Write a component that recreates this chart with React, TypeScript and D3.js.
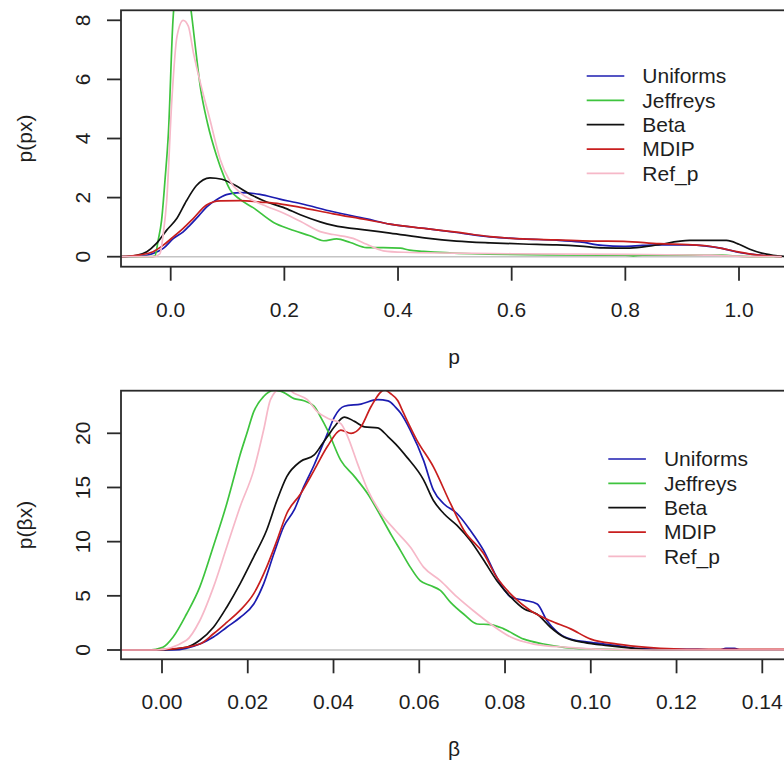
import React from 'react';
import * as d3 from 'd3';

type Pt = [number, number];

const seriesNames = ['Uniforms', 'Jeffreys', 'Beta', 'MDIP', 'Ref_p'];
const seriesColors = ['#1c1cb0', '#3ec43e', '#111111', '#c81e1e', '#f6b8c8'];

const topXTicks = [0, 0.2, 0.4, 0.6, 0.8, 1.0];
const topXLabels = ['0.0', '0.2', '0.4', '0.6', '0.8', '1.0'];
const topYTicks = [0, 2, 4, 6, 8];
const botXTicks = [0, 0.02, 0.04, 0.06, 0.08, 0.1, 0.12, 0.14];
const botXLabels = ['0.00', '0.02', '0.04', '0.06', '0.08', '0.10', '0.12', '0.14'];
const botYTicks = [0, 5, 10, 15, 20];

// ---- Top panel: posterior density of p ----
const topUniforms: Pt[] = [
  [-0.087, 0], [-0.054, 0.02], [-0.031, 0.11], [-0.013, 0.28], [0.005, 0.62], [0.022, 0.84], [0.034, 1.07],
  [0.05, 1.4], [0.063, 1.68], [0.08, 1.92], [0.098, 2.1], [0.122, 2.17], [0.157, 2.11], [0.192, 1.95],
  [0.228, 1.8], [0.286, 1.52], [0.345, 1.28], [0.386, 1.1], [0.45, 0.95], [0.503, 0.82], [0.562, 0.67],
  [0.62, 0.6], [0.679, 0.56], [0.72, 0.5], [0.76, 0.38], [0.797, 0.35], [0.83, 0.38], [0.86, 0.4],
  [0.91, 0.4], [0.943, 0.36], [0.97, 0.28], [0.996, 0.16], [1.02, 0.09], [1.043, 0.04], [1.075, 0],
];
const topMDIP: Pt[] = [
  [-0.087, 0], [-0.054, 0.06], [-0.031, 0.17], [-0.013, 0.39], [0.005, 0.68], [0.022, 0.96], [0.04, 1.3],
  [0.063, 1.75], [0.087, 1.89], [0.122, 1.9], [0.157, 1.85], [0.192, 1.79], [0.228, 1.67], [0.286, 1.45],
  [0.345, 1.25], [0.386, 1.1], [0.45, 0.95], [0.503, 0.83], [0.562, 0.68], [0.62, 0.6], [0.679, 0.57],
  [0.74, 0.53], [0.797, 0.52], [0.86, 0.44], [0.91, 0.41], [0.943, 0.37], [0.97, 0.28], [0.996, 0.17],
  [1.02, 0.09], [1.043, 0.04], [1.075, 0],
];
const topBeta: Pt[] = [
  [-0.087, 0], [-0.06, 0.05], [-0.042, 0.17], [-0.025, 0.45], [-0.007, 0.9], [0.011, 1.3], [0.028, 1.9],
  [0.045, 2.4], [0.069, 2.67], [0.09, 2.62], [0.11, 2.45], [0.145, 2.06], [0.169, 1.85], [0.198, 1.67],
  [0.228, 1.42], [0.263, 1.18], [0.286, 1.06], [0.345, 0.9], [0.386, 0.8], [0.45, 0.63], [0.503, 0.53],
  [0.562, 0.47], [0.62, 0.43], [0.679, 0.4], [0.72, 0.36], [0.761, 0.3], [0.808, 0.29], [0.85, 0.38],
  [0.913, 0.55], [0.978, 0.55], [1.0, 0.42], [1.019, 0.25], [1.04, 0.12], [1.06, 0.05], [1.085, 0],
];
const topJeffreys: Pt[] = [
  [-0.087, 0], [-0.036, 0], [-0.028, 0.02], [-0.022, 0.56], [-0.016, 1.24], [-0.01, 2.6], [-0.004, 4.2],
  [0.004, 8.0], [0.01, 9.2], [0.018, 9.6], [0.028, 9.3], [0.036, 8.3], [0.044, 7.0], [0.052, 5.76],
  [0.065, 4.5], [0.081, 3.4], [0.093, 2.75], [0.104, 2.28], [0.122, 1.94], [0.145, 1.66], [0.181, 1.16],
  [0.21, 0.93], [0.245, 0.71], [0.269, 0.54], [0.292, 0.6], [0.316, 0.48], [0.345, 0.31], [0.374, 0.31],
  [0.404, 0.29], [0.42, 0.22], [0.445, 0.18], [0.53, 0.1], [0.668, 0.06], [0.8, 0.05], [0.814, 0.03],
  [0.83, 0.05], [0.97, 0.05], [1.0, 0.02], [1.025, 0], [1.075, 0],
];
const topRef: Pt[] = [
  [-0.087, 0], [-0.03, 0], [-0.019, 0.1], [-0.013, 0.79], [-0.007, 1.9], [0.002, 5.3], [0.011, 7.45],
  [0.022, 8.0], [0.031, 7.8], [0.04, 6.9], [0.052, 5.9], [0.069, 4.64], [0.087, 3.3], [0.104, 2.56],
  [0.122, 2.17], [0.145, 1.9], [0.169, 1.7], [0.198, 1.48], [0.228, 1.2], [0.263, 0.85], [0.286, 0.75],
  [0.321, 0.62], [0.345, 0.42], [0.374, 0.2], [0.41, 0.15], [0.5, 0.12], [0.6, 0.1], [0.8, 0.08],
  [0.95, 0.05], [1.02, 0], [1.075, 0],
];

// ---- Bottom panel: posterior density of beta ----
const botUniforms: Pt[] = [
  [-0.0096, 0], [0.0026, 0], [0.0088, 0.55], [0.012, 1.2], [0.0151, 2.1], [0.0182, 3.0], [0.0214, 4.25],
  [0.0237, 6.1], [0.0261, 8.9], [0.0284, 11.4], [0.0308, 12.9], [0.0331, 15.1], [0.0355, 17.1], [0.037, 18.5],
  [0.0386, 20.0], [0.0402, 21.5], [0.0425, 22.5], [0.0464, 22.7], [0.0503, 23.1], [0.0527, 23.0], [0.0545, 22.4],
  [0.0556, 21.9], [0.0579, 20.3], [0.061, 17.5], [0.0633, 14.75], [0.0657, 13.5], [0.0688, 12.6], [0.0719, 11.05],
  [0.075, 9.2], [0.0781, 6.7], [0.0813, 4.9], [0.0844, 4.6], [0.0875, 4.25], [0.0898, 2.7], [0.0922, 1.65],
  [0.0953, 1.0], [0.1, 0.7], [0.1062, 0.4], [0.1109, 0.15], [0.118, 0.05], [0.125, 0.05], [0.13, 0],
  [0.1315, 0.15], [0.1335, 0.15], [0.135, 0], [0.146, 0],
];
const botMDIP: Pt[] = [
  [-0.0096, 0], [-0.003, 0], [0.0026, 0.1], [0.0088, 0.55], [0.012, 1.5], [0.0151, 2.55], [0.0182, 3.65],
  [0.0214, 5.2], [0.0244, 7.65], [0.0268, 10.1], [0.0291, 12.6], [0.0323, 14.4], [0.0355, 16.6], [0.0386, 18.8],
  [0.0417, 20.3], [0.0441, 20.0], [0.0464, 20.6], [0.0488, 22.5], [0.0519, 24.0], [0.0532, 23.7], [0.055, 23.0],
  [0.0563, 21.9], [0.0594, 19.4], [0.0633, 16.9], [0.0673, 13.5], [0.0704, 11.05], [0.075, 8.9], [0.0781, 6.7],
  [0.082, 4.9], [0.0859, 3.65], [0.0906, 2.7], [0.0953, 1.95], [0.1, 1.0], [0.1062, 0.55], [0.1132, 0.25],
  [0.1194, 0.1], [0.125, 0.05], [0.1443, 0.05], [0.146, 0.05],
];
const botBeta: Pt[] = [
  [-0.0096, 0], [-0.0005, 0], [0.0057, 0.25], [0.0088, 0.9], [0.012, 2.1], [0.0151, 3.95], [0.0182, 6.1],
  [0.0214, 8.6], [0.0244, 11.05], [0.0268, 13.8], [0.0291, 16.0], [0.0323, 17.4], [0.0355, 18.0], [0.037, 18.8],
  [0.0386, 19.7], [0.0402, 20.6], [0.0425, 21.5], [0.0449, 21.1], [0.0472, 20.6], [0.0503, 20.5], [0.0527, 19.7],
  [0.0545, 19.0], [0.0571, 17.8], [0.061, 15.7], [0.0633, 13.8], [0.0657, 12.6], [0.0688, 11.5], [0.0719, 10.1],
  [0.075, 8.3], [0.0781, 6.4], [0.0813, 4.9], [0.0844, 3.8], [0.0875, 3.3], [0.0906, 2.1], [0.0937, 1.2],
  [0.0984, 0.7], [0.104, 0.4], [0.11, 0.15], [0.1155, 0], [0.146, 0],
];
const botJeffreys: Pt[] = [
  [-0.0096, 0], [-0.003, 0], [0.0002, 0.25], [0.0026, 1.2], [0.0057, 3.3], [0.0088, 5.8], [0.012, 9.6],
  [0.0151, 13.5], [0.0167, 15.8], [0.0182, 18.0], [0.0198, 20.0], [0.0214, 22.0], [0.0237, 23.4], [0.0261, 23.95],
  [0.0276, 23.9], [0.0308, 23.2], [0.0331, 23.0], [0.0355, 22.5], [0.037, 21.5], [0.0386, 20.3], [0.0417, 17.5],
  [0.0449, 16.0], [0.048, 14.4], [0.0511, 12.3], [0.0535, 10.6], [0.0556, 9.2], [0.0579, 7.65], [0.0602, 6.4],
  [0.0626, 5.95], [0.0649, 5.5], [0.0673, 4.4], [0.0704, 3.3], [0.0735, 2.4], [0.0766, 2.35], [0.0797, 1.95],
  [0.0844, 1.0], [0.089, 0.55], [0.0937, 0.25], [0.1, 0.1], [0.1124, 0], [0.146, 0],
];
const botRef: Pt[] = [
  [-0.0096, 0], [-0.0013, 0], [0.0057, 0.9], [0.0088, 2.7], [0.012, 5.8], [0.0151, 9.5], [0.0182, 13.2],
  [0.0214, 16.6], [0.0237, 20.3], [0.0253, 23.1], [0.0276, 24.1], [0.0292, 24.1], [0.0308, 23.7], [0.0339, 23.1],
  [0.0362, 22.0], [0.0386, 21.4], [0.0417, 20.9], [0.0433, 19.7], [0.0456, 17.2], [0.048, 14.75], [0.0511, 12.6],
  [0.0545, 11.0], [0.0579, 9.5], [0.061, 7.65], [0.0649, 6.4], [0.0688, 4.9], [0.0727, 3.6], [0.0766, 2.4],
  [0.0813, 1.2], [0.0867, 0.55], [0.0945, 0.25], [0.104, 0.06], [0.112, 0], [0.146, 0],
];

const topSeries = [topUniforms, topJeffreys, topBeta, topMDIP, topRef];
const botSeries = [botUniforms, botJeffreys, botBeta, botMDIP, botRef];
// drawing order: Uniforms first then others (as in R lines())
const FONT = 'Liberation Sans, Arial, Helvetica, sans-serif';
const TXT = '#1e1e1e';
const AX = '#2a2a2a';

interface PanelProps {
  id: string;
  box: { left: number; right: number; top: number; bottom: number };
  x: d3.ScaleLinear<number, number>;
  y: d3.ScaleLinear<number, number>;
  xTicks: number[];
  xLabels: string[];
  yTicks: number[];
  series: Pt[][];
  xTitle: string;
  yTitle: string;
  legend: { x: number; y: number };
}

function Panel({ id, box, x, y, xTicks, xLabels, yTicks, series, xTitle, yTitle, legend }: PanelProps) {
  const line = d3.line<Pt>().x(d => x(d[0])).y(d => y(d[1])).curve(d3.curveMonotoneX);
  const cy = (box.top + box.bottom) / 2;
  const cx = (box.left + box.right) / 2;
  const tick = 14;
  return (
    <g>
      <defs>
        <clipPath id={id}>
          <rect x={box.left} y={box.top} width={box.right - box.left} height={box.bottom - box.top} />
        </clipPath>
      </defs>
      <g clipPath={`url(#${id})`}>
        <line x1={box.left} x2={box.right} y1={y(0)} y2={y(0)} stroke="#c4c4c4" strokeWidth={1.6} />
        {series.map((s, i) => (
          <path key={i} d={line(s) || ''} fill="none" stroke={seriesColors[i]} strokeWidth={1.7} />
        ))}
      </g>
      <rect x={box.left} y={box.top} width={box.right - box.left} height={box.bottom - box.top}
        fill="none" stroke={AX} strokeWidth={1.8} />
      {xTicks.map((t, i) => (
        <g key={'x' + i}>
          <line x1={x(t)} x2={x(t)} y1={box.bottom} y2={box.bottom + tick} stroke={AX} strokeWidth={1.8} />
          <text x={x(t)} y={box.bottom + 50} textAnchor="middle" fontFamily={FONT} fontSize={21} fill={TXT}>{xLabels[i]}</text>
        </g>
      ))}
      {yTicks.map((t, i) => (
        <g key={'y' + i}>
          <line x1={box.left - tick} x2={box.left} y1={y(t)} y2={y(t)} stroke={AX} strokeWidth={1.8} />
          <text transform={`translate(${box.left - 31},${y(t)}) rotate(-90)`} textAnchor="middle"
            fontFamily={FONT} fontSize={21} fill={TXT}>{String(t)}</text>
        </g>
      ))}
      <text x={cx} y={box.bottom + 97} textAnchor="middle" fontFamily={FONT} fontSize={21} fill={TXT}>{xTitle}</text>
      <text transform={`translate(32,${cy}) rotate(-90)`} textAnchor="middle" fontFamily={FONT} fontSize={21} fill={TXT}>{yTitle}</text>
      {seriesNames.map((n, i) => (
        <g key={'l' + i}>
          <line x1={legend.x} x2={legend.x + 37.6} y1={legend.y + i * 24.35} y2={legend.y + i * 24.35}
            stroke={seriesColors[i]} strokeWidth={1.7} />
          <text x={legend.x + 55.6} y={legend.y + i * 24.35 + 7.3} fontFamily={FONT} fontSize={21} fill={TXT}>{n}</text>
        </g>
      ))}
    </g>
  );
}

export default function App() {
  const topBox = { left: 121, right: 787, top: 10.3, bottom: 266.7 };
  const botBox = { left: 121, right: 787, top: 390.7, bottom: 659.3 };
  const xTop = d3.scaleLinear().domain([0, 1]).range([170.7, 739]);
  const yTop = d3.scaleLinear().domain([0, 8]).range([256.7, 20.3]);
  const xBot = d3.scaleLinear().domain([0, 0.14]).range([162, 762.3]);
  const yBot = d3.scaleLinear().domain([0, 20]).range([650, 433.3]);
  return (
    <svg width={784} height={769} style={{ position: 'absolute', left: 0, top: 0, background: '#fff' }}>
      <rect x={0} y={0} width={784} height={769} fill="#fff" />
      <Panel id="clipTop" box={topBox} x={xTop} y={yTop} xTicks={topXTicks} xLabels={topXLabels}
        yTicks={topYTicks} series={topSeries} xTitle="p" yTitle="p(px)" legend={{ x: 586.7, y: 76 }} />
      <Panel id="clipBot" box={botBox} x={xBot} y={yBot} xTicks={botXTicks} xLabels={botXLabels}
        yTicks={botYTicks} series={botSeries} xTitle="β" yTitle="p(βx)" legend={{ x: 608.3, y: 459 }} />
    </svg>
  );
}
